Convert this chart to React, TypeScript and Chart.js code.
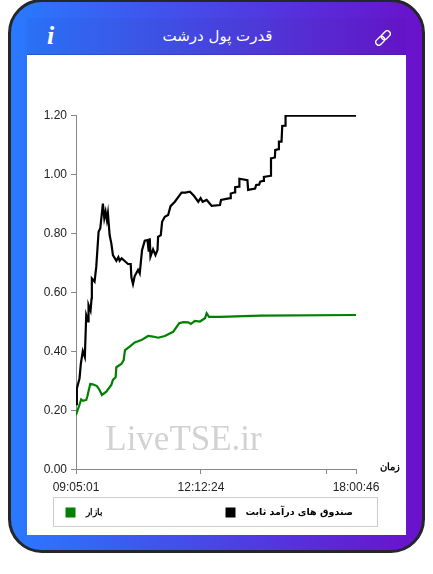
import React, { useEffect, useRef } from "react";
import { Chart, registerables } from "chart.js";

Chart.register(...registerables);

const xTickIndices = [0, 124.5, 249.5, 279];
const xTickLabels = ["09:05:01", "12:12:24", "", "18:00:46"];
const seriesNames = ["صندوق های درآمد ثابت", "بازار"];
const title = "قدرت پول درشت";
const xAxisName = "زمان";
const watermark = "LiveTSE.ir";

const blackIndex = [0, 0.8, 0.9, 3.5, 4.8, 6.8, 8.8, 10.2, 12.2, 12.5, 14.5, 15.5, 15.8, 18.5, 20.2, 22.5, 24.2, 26.8, 28.2, 29.5, 30.8, 31.8, 33.5, 35.2, 36.8, 40.2, 42.2, 43.5, 45.5, 48.5, 51.8, 54.5, 55.2, 56.8, 58.5, 61.8, 63.5, 65.8, 68.5, 71.2, 72.5, 73.5, 74.2, 76.8, 79.2, 81.2, 81.8, 84.5, 85.8, 88.5, 91.8, 94.2, 98.5, 103.5, 105.2, 109, 113.5, 117.5, 121.8, 124.2, 126.2, 130.2, 135.2, 143.5, 144.5, 153.5, 154.2, 158.5, 158.6, 162.5, 162.8, 170.8, 171.5, 178.5, 179.5, 182.5, 183.5, 186.8, 187.2, 194.2, 194.3, 198.2, 198.5, 201.5, 202.2, 204.8, 205.5, 208.5, 208.8, 279];
const blackValues = [0.22, 0.234, 0.273, 0.307, 0.356, 0.4, 0.38, 0.522, 0.5, 0.556, 0.537, 0.578, 0.646, 0.635, 0.686, 0.804, 0.816, 0.9, 0.85, 0.872, 0.844, 0.867, 0.793, 0.765, 0.725, 0.706, 0.718, 0.706, 0.714, 0.705, 0.695, 0.695, 0.65, 0.627, 0.654, 0.675, 0.663, 0.742, 0.774, 0.776, 0.737, 0.782, 0.72, 0.745, 0.725, 0.742, 0.787, 0.793, 0.838, 0.855, 0.861, 0.891, 0.906, 0.929, 0.937, 0.937, 0.94, 0.926, 0.906, 0.918, 0.906, 0.912, 0.892, 0.895, 0.912, 0.918, 0.934, 0.938, 0.955, 0.957, 0.984, 0.979, 0.946, 0.951, 0.963, 0.964, 0.974, 0.977, 0.99, 0.994, 1.053, 1.056, 1.081, 1.084, 1.11, 1.11, 1.163, 1.164, 1.198, 1.198];

const greenIndex = [0, 2.8, 5.2, 7, 10.2, 11.2, 14.2, 16.8, 20.8, 23.5, 25.8, 30.2, 35.2, 36.8, 39.5, 40.2, 45.2, 47.5, 48.8, 53.5, 58.5, 65.2, 71.8, 76.8, 81.8, 88.5, 96.8, 102.8, 106.8, 111.8, 114.5, 118.5, 123.5, 128.5, 130.2, 132.5, 143.5, 183.5, 279];
const greenValues = [0.183, 0.211, 0.236, 0.231, 0.234, 0.245, 0.288, 0.287, 0.281, 0.268, 0.251, 0.262, 0.285, 0.302, 0.311, 0.345, 0.356, 0.369, 0.403, 0.415, 0.429, 0.437, 0.451, 0.449, 0.445, 0.451, 0.465, 0.494, 0.498, 0.497, 0.492, 0.502, 0.5, 0.511, 0.528, 0.516, 0.516, 0.52, 0.522];

const toPoints = (xs: number[], ys: number[]) => xs.map((x, i) => ({ x, y: ys[i] }));

const overlay = {
  id: "overlay",
  beforeDatasetsDraw(chart: any) {
    const { ctx, chartArea } = chart;
    ctx.save();
    ctx.fillStyle = "#d2d2d2";
    ctx.font = '35px "Liberation Serif"';
    ctx.textAlign = "center";
    ctx.textBaseline = "middle";
    ctx.fillText(watermark, chartArea.left + 107.5, chartArea.bottom - 28);
    ctx.restore();
  },
  afterDraw(chart: any) {
    const { ctx, chartArea, data } = chart;
    ctx.save();
    ctx.font = 'bold 10px "Liberation Sans"';
    ctx.fillStyle = "#000";
    ctx.textBaseline = "middle";
    ctx.textAlign = "center";
    ctx.fillText(xAxisName, chartArea.right + 34, chartArea.bottom - 2);
    const boxLeft = chartArea.left - 22.5;
    const boxTop = chartArea.bottom + 28.5;
    ctx.strokeStyle = "#cccccc";
    ctx.lineWidth = 1;
    ctx.strokeRect(boxLeft, boxTop, 324, 29);
    const offsets = [172, 12];
    const legendFonts = ['bold 9.5px "DejaVu Sans"', 'bold 9px "Liberation Sans"'];
    data.datasets.forEach((ds: any, i: number) => {
      const x = boxLeft + offsets[i];
      ctx.fillStyle = ds.borderColor;
      ctx.fillRect(x, boxTop + 10, 10, 10);
      ctx.fillStyle = "#000";
      ctx.textAlign = "left";
      ctx.font = legendFonts[i];
      ctx.fillText(ds.label, x + 20, boxTop + 15);
    });
    ctx.restore();
  },
};

export default function App() {
  const ref = useRef<HTMLCanvasElement>(null);

  useEffect(() => {
    const axisColor = "#888888";
    const tickFont = { family: '"Liberation Sans"', size: 12 };
    const chart = new Chart(ref.current!, {
      type: "line",
      data: {
        datasets: [
          { label: seriesNames[0], data: toPoints(blackIndex, blackValues), borderColor: "#000000", borderWidth: 2.2, pointRadius: 0, tension: 0, fill: false },
          { label: seriesNames[1], data: toPoints(greenIndex, greenValues), borderColor: "#008000", borderWidth: 2.2, pointRadius: 0, tension: 0, fill: false },
        ],
      },
      options: {
        responsive: false,
        animation: false,
        layout: { padding: { left: 0, right: 50, top: 60, bottom: 0 } },
        plugins: { legend: { display: false }, tooltip: { enabled: false } },
        scales: {
          x: {
            type: "linear",
            min: 0,
            max: 279,
            border: { color: axisColor, width: 1 },
            grid: { drawOnChartArea: false, drawTicks: true, tickLength: 5, tickColor: axisColor },
            afterBuildTicks(axis: any) {
              axis.ticks = xTickIndices.map((value) => ({ value }));
            },
            afterFit(axis: any) {
              axis.height = 66;
            },
            ticks: {
              autoSkip: false,
              maxRotation: 0,
              minRotation: 0,
              color: "#222",
              font: tickFont,
              padding: 6,
              callback: (value: any) => xTickLabels[xTickIndices.indexOf(value)] ?? "",
            },
          },
          y: {
            min: 0,
            max: 1.2,
            border: { color: axisColor, width: 1 },
            grid: { drawOnChartArea: false, drawTicks: true, tickLength: 5, tickColor: axisColor },
            afterFit(axis: any) {
              axis.width = 49;
            },
            ticks: {
              stepSize: 0.2,
              color: "#222",
              font: tickFont,
              padding: 4,
              labelOffset: 1,
              callback: (value: any) => Number(value).toFixed(2),
            },
          },
        },
      },
      plugins: [overlay],
    } as any);
    return () => chart.destroy();
  }, []);

  return (
    <div
      style={{
        position: "absolute",
        left: 8,
        top: -1,
        width: 417,
        height: 554,
        boxSizing: "border-box",
        border: "3px solid #23272b",
        borderRadius: 34,
        background: "linear-gradient(90deg, #2979ff 0%, #6a11cb 100%)",
        overflow: "hidden",
      }}
    >
      <div
        style={{
          position: "absolute",
          left: 16,
          top: 16,
          width: 379,
          height: 37,
          background: "rgba(0,0,0,0.03)",
          borderBottom: "1px solid rgba(20,40,160,0.3)",
          boxSizing: "border-box",
        }}
      />
      <div
        style={{
          position: "absolute",
          left: 0,
          width: 413,
          top: 22,
          textAlign: "center",
          color: "#fff",
          fontFamily: '"DejaVu Sans"',
          fontSize: 15,
          lineHeight: "24px",
          direction: "rtl",
        }}
      >
        {title}
      </div>
      <div
        style={{
          position: "absolute",
          left: 36,
          top: 19,
          color: "#fff",
          fontFamily: '"Liberation Serif"',
          fontStyle: "italic",
          fontWeight: "bold",
          fontSize: 26,
          lineHeight: "30px",
        }}
      >
        i
      </div>
      <svg
        style={{ position: "absolute", left: 364, top: 28 }}
        width="16"
        height="16"
        viewBox="0 0 16 16"
        fill="none"
        stroke="#fff"
        strokeWidth="1.4"
      >
        <g transform="rotate(-45 8 8)">
          <rect x="-1" y="5" width="10" height="6" rx="3" />
          <rect x="7" y="5" width="10" height="6" rx="3" />
        </g>
      </svg>
      <div
        style={{
          position: "absolute",
          left: 16,
          top: 53,
          width: 379,
          height: 480,
          background: "#fff",
        }}
      >
        <canvas ref={ref} width={379} height={480} style={{ display: "block" }} />
      </div>
    </div>
  );
}
